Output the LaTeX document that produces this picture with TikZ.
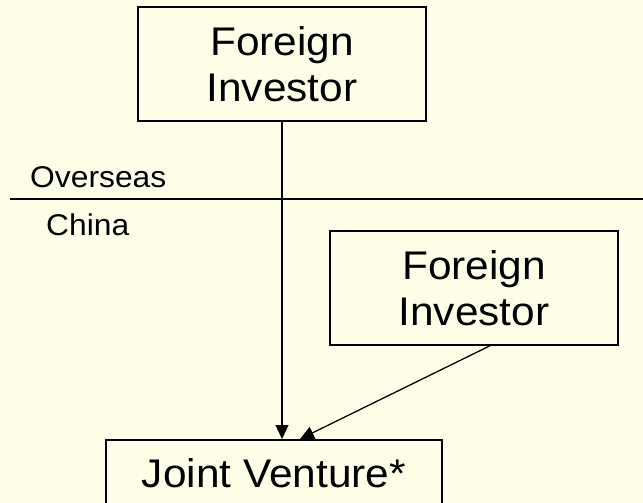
\documentclass[tikz,border=0pt]{standalone}
\usepackage{fontspec}
\setmainfont{Liberation Sans}[FakeStretch=1.06]
\usetikzlibrary{arrows.meta,calc}
\definecolor{paper}{RGB}{255,255,232}
\tikzset{
  box/.style={draw=black, line width=1.5bp, rectangle, inner sep=0pt,
    minimum width=288bp, minimum height=114bp, align=center,
    font=\fontsize{40bp}{46bp}\selectfont},
  label/.style={inner sep=0pt, anchor=base west,
    font=\fontsize{30bp}{34bp}\selectfont},
  link/.style={line width=1.3bp, -{Triangle[length=14bp,width=13bp]}},
  border/.style={line width=1.3bp}
}
\begin{document}
\begin{tikzpicture}[x=1bp,y=-1bp]
  % page
  \fill[paper] (0,0) rectangle (643,503);
  \useasboundingbox (0,0) rectangle (643,503);

  % investors
  \node[box] (inv1) at (282,64) {Foreign\\Investor};
  \node[box] (inv2) at (474,288) {Foreign\\Investor};

  % joint venture, cut off by the page edge
  \begin{scope}
    \clip (0,0) rectangle (643,503);
    \node[box, anchor=north, minimum width=336bp, minimum height=0pt,
      text height=48bp, text depth=66bp] (jv) at (274,439) {Joint Venture*};
  \end{scope}

  % border between overseas and China
  \coordinate (bl) at (10,199);
  \coordinate (br) at (643,199);
  \draw[border] (bl) -- (br);
  \node[label] (overseas) at (30,188) {Overseas};
  \node[label] (china) at (46,236) {China};

  % ownership links
  \draw[link] (inv1.south) -- (inv1.south |- jv.north);
  \draw[link] ($(inv2.south)+(16,0)$) -- ($(jv.north)+(26,0)$);
\end{tikzpicture}
\end{document}
